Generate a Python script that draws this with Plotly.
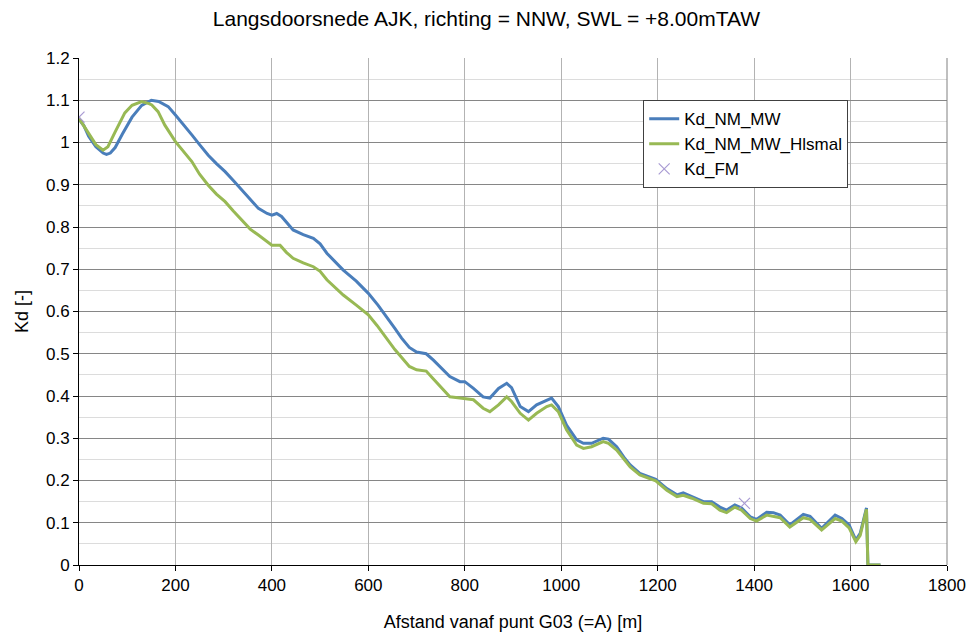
import plotly.graph_objects as go

# Distance along the cross-section [m] and diffraction coefficient Kd [-]
mw_x = [0, 10, 20, 35, 50, 57, 65, 75, 90, 110, 130, 150, 165, 185, 200, 215, 234, 250,
        268, 285, 303, 320, 337, 355, 372, 390, 400, 410, 420, 444, 465, 486, 500, 514,
        530, 548, 575, 600, 620, 638, 655, 669, 685, 700, 720, 735, 749, 769, 790, 800,
        818, 838, 852, 870, 887, 897, 915, 932, 949, 970, 980, 994, 1011, 1032, 1046,
        1063, 1087, 1098, 1115, 1132, 1143, 1163, 1180, 1196, 1219, 1240, 1253, 1271,
        1295, 1312, 1329, 1343, 1360, 1374, 1392, 1405, 1426, 1440, 1454, 1474, 1502,
        1516, 1540, 1568, 1582, 1597, 1611, 1620, 1633, 1636, 1662]
mw_kd = [1.055, 1.04, 1.015, 0.99, 0.975, 0.972, 0.975, 0.988, 1.02, 1.06, 1.088, 1.10,
         1.097, 1.085, 1.065, 1.045, 1.018, 0.995, 0.970, 0.95, 0.931, 0.91, 0.888, 0.865,
         0.844, 0.832, 0.828, 0.832, 0.825, 0.793, 0.782, 0.773, 0.76, 0.738, 0.72, 0.698,
         0.672, 0.643, 0.615, 0.588, 0.56, 0.537, 0.515, 0.504, 0.50, 0.485, 0.469, 0.446,
         0.434, 0.434, 0.418, 0.398, 0.395, 0.418, 0.430, 0.420, 0.375, 0.363, 0.379, 0.391,
         0.395, 0.375, 0.331, 0.296, 0.288, 0.288, 0.300, 0.298, 0.280, 0.252, 0.237, 0.217,
         0.210, 0.203, 0.181, 0.166, 0.171, 0.162, 0.150, 0.150, 0.137, 0.130, 0.142, 0.135,
         0.114, 0.108, 0.125, 0.124, 0.118, 0.095, 0.120, 0.115, 0.087, 0.118, 0.110, 0.095,
         0.059, 0.075, 0.135, 0.0, 0.0]

hl_x = [0, 15, 35, 50, 60, 75, 95, 110, 130, 145, 151, 164, 178, 200, 215, 234, 250, 268,
        285, 303, 320, 337, 355, 372, 385, 400, 417, 430, 444, 465, 486, 500, 514, 530,
        548, 575, 600, 618, 635, 655, 670, 685, 700, 720, 735, 749, 769, 790, 800, 818,
        838, 852, 870, 887, 897, 915, 932, 949, 970, 980, 994, 1011, 1032, 1046, 1063,
        1087, 1098, 1115, 1132, 1143, 1163, 1180, 1196, 1219, 1240, 1253, 1271, 1295,
        1312, 1329, 1343, 1360, 1374, 1392, 1405, 1426, 1440, 1454, 1474, 1502, 1516,
        1540, 1568, 1582, 1597, 1611, 1620, 1633, 1636, 1662]
hl_kd = [1.057, 1.03, 0.995, 0.982, 0.99, 1.025, 1.07, 1.088, 1.097, 1.092, 1.089, 1.073,
         1.041, 1.002, 0.98, 0.955, 0.925, 0.899, 0.878, 0.860, 0.838, 0.817, 0.795, 0.781,
         0.77, 0.757, 0.757, 0.74, 0.726, 0.715, 0.706, 0.695, 0.675, 0.658, 0.639, 0.615,
         0.592, 0.567, 0.540, 0.51, 0.49, 0.47, 0.462, 0.459, 0.44, 0.422, 0.398, 0.395,
         0.394, 0.391, 0.371, 0.363, 0.379, 0.398, 0.387, 0.359, 0.343, 0.359, 0.375, 0.379,
         0.363, 0.320, 0.284, 0.276, 0.280, 0.292, 0.288, 0.272, 0.248, 0.232, 0.213, 0.205,
         0.199, 0.177, 0.162, 0.165, 0.158, 0.146, 0.145, 0.130, 0.124, 0.137, 0.130, 0.110,
         0.104, 0.118, 0.115, 0.112, 0.090, 0.112, 0.108, 0.083, 0.110, 0.104, 0.088, 0.055,
         0.07, 0.132, 0.0, 0.0]

fm_x = [0, 1380]
fm_kd = [1.06, 0.146]

FONT = "Liberation Sans, Arial, sans-serif"

fig = go.Figure()
fig.add_trace(go.Scatter(x=mw_x, y=mw_kd, mode="lines", name="Kd_NM_MW",
                         line=dict(color="#4a7ebb", width=3)))
fig.add_trace(go.Scatter(x=hl_x, y=hl_kd, mode="lines", name="Kd_NM_MW_Hlsmal",
                         line=dict(color="#98b954", width=3)))
fig.add_trace(go.Scatter(x=fm_x, y=fm_kd, mode="markers", name="Kd_FM",
                         marker=dict(symbol="x-thin-open", size=11, color="#a99bd3",
                                     line=dict(color="#a99bd3", width=1.2))))

fig.update_layout(
    width=967, height=634,
    margin=dict(l=79, r=20, t=58, b=69, autoexpand=False),
    paper_bgcolor="white", plot_bgcolor="white",
    font=dict(family=FONT, size=17, color="#000000"),
    title=dict(text="Langsdoorsnede AJK, richting = NNW, SWL = +8.00mTAW",
               x=0.503, xanchor="center", y=0.971, yanchor="middle",
               font=dict(family=FONT, size=21, color="#000000")),
    xaxis=dict(range=[0, 1800], dtick=200, tick0=0, automargin=False,
               showgrid=True, gridcolor="#b3b3b3", gridwidth=1,
               showline=True, linecolor="#000000", linewidth=1, mirror=False,
               ticks="outside", ticklen=5, tickcolor="#000000",
               tickfont=dict(family=FONT, size=17),
               zeroline=False,
               title=dict(text="Afstand vanaf punt G03 (=A) [m]",
                          font=dict(family=FONT, size=18), standoff=20)),
    yaxis=dict(range=[0, 1.2], dtick=0.1, tick0=0, automargin=False,
               showgrid=True, gridcolor="#868686", gridwidth=1,
               minor=dict(dtick=0.05, showgrid=True, gridcolor="#dcdcdc", gridwidth=1),
               showline=True, linecolor="#000000", linewidth=1,
               ticks="outside", ticklen=5, tickcolor="#000000",
               tickfont=dict(family=FONT, size=17),
               zeroline=False,
               title=dict(text="Kd [-]", font=dict(family=FONT, size=18), standoff=12)),
    legend=dict(x=0.650, y=0.917, xanchor="left", yanchor="top",
                bgcolor="white", bordercolor="#404040", borderwidth=1,
                font=dict(family=FONT, size=17), itemwidth=30,
                tracegroupgap=0),
    showlegend=True,
)

# right-hand frame of the plotting area
fig.add_shape(type="line", xref="paper", yref="paper", x0=1, x1=1, y0=0, y1=1,
              line=dict(color="#808080", width=1))

fig.write_html("out.html")
